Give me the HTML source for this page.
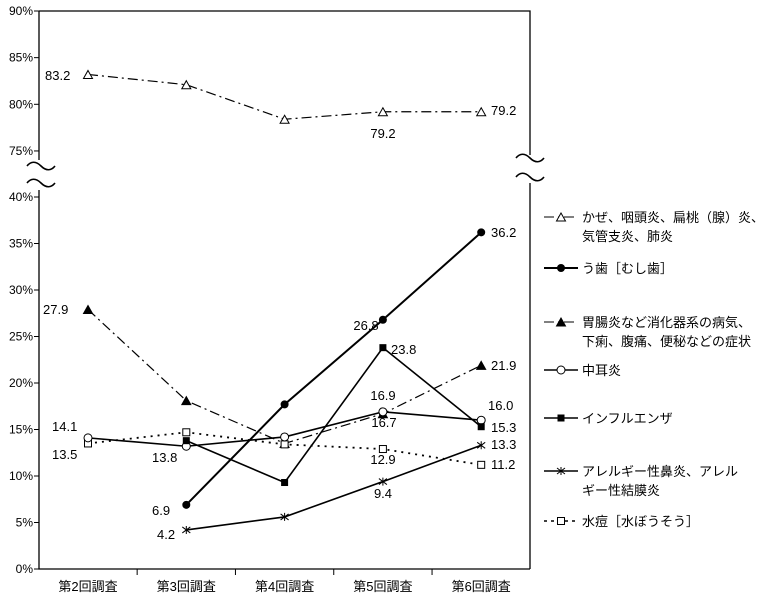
<!DOCTYPE html>
<html><head><meta charset="utf-8"><style>
body{margin:0;background:#fff;}
svg{display:block;font-family:"Liberation Sans","Noto Sans CJK JP",sans-serif;}
</style></head><body>
<svg id="chart" width="760" height="603"></svg>
<script>
const categories=["第2回調査","第3回調査","第4回調査","第5回調査","第6回調査"];
const coldVals=[83.2,82.1,78.4,79.2,79.2];
const cariesVals=[null,6.9,17.7,26.8,36.2];
const gastroVals=[27.9,18.1,13.5,16.7,21.9];
const otitisVals=[14.1,13.2,14.2,16.9,16.0];
const fluVals=[null,13.8,9.3,23.8,15.3];
const allergyVals=[null,4.2,5.6,9.4,13.3];
const varicellaVals=[13.5,14.7,13.4,12.9,11.2];
const upperTicks=[90,85,80,75];
const lowerTicks=[40,35,30,25,20,15,10,5,0];

const NS="http://www.w3.org/2000/svg";
const svg=document.getElementById('chart');
function el(t,a,p){const e=document.createElementNS(NS,t);for(const k in a)e.setAttribute(k,a[k]);(p||svg).appendChild(e);return e;}
const L=39,R=530;
const xs=i=>88+i*98.3;
const yLow=v=>569-v*9.3;
const yUp=v=>11+(90-v)*9.33;

let a=el('path',{d:`M${L},11H${R}V155M${R},183V569M${L},11V160M${L},190V569H${R}`,stroke:'#000','stroke-width':1.3,fill:'none'});

upperTicks.forEach(t=>{const y=yUp(t);el('line',{x1:L-5,x2:L,y1:y,y2:y,stroke:'#000'});
 const tx=el('text',{x:L-6,y:y+4,'text-anchor':'end','font-size':12});tx.textContent=t+'%';
 });
lowerTicks.forEach(t=>{const y=yLow(t);el('line',{x1:L-5,x2:L,y1:y,y2:y,stroke:'#000'});
 const tx=el('text',{x:L-6,y:y+4,'text-anchor':'end','font-size':12});tx.textContent=t+'%';
 });
for(let i=1;i<categories.length;i++){const x=(xs(i-1)+xs(i))/2;el('line',{x1:x,x2:x,y1:569,y2:575,stroke:'#000'});}
categories.forEach((c,i)=>{const t=el('text',{x:xs(i),y:591,'text-anchor':'middle','font-size':13});t.textContent=c;
 });
function squig(x,y){el('path',{d:`M${x},${y}c4,-5 9,-5 14,0s10,5 14,0`,stroke:'#000','stroke-width':1.6,fill:'none'});}
squig(27,166);squig(27,183);squig(516,158);squig(516,177);

function marker(g,type,x,y){
 if(type==='tri')el('path',{d:`M${x},${y-4}L${x+4.5},${y+4}L${x-4.5},${y+4}Z`,fill:'#fff',stroke:'#000'},g);
 if(type==='ftri')el('path',{d:`M${x},${y-4}L${x+4.5},${y+4}L${x-4.5},${y+4}Z`,fill:'#000',stroke:'#000'},g);
 if(type==='dot')el('circle',{cx:x,cy:y,r:4,fill:'#000'},g);
 if(type==='circ')el('circle',{cx:x,cy:y,r:4,fill:'#fff',stroke:'#000'},g);
 if(type==='fsq')el('rect',{x:x-3.5,y:y-3.5,width:7,height:7,fill:'#000'},g);
 if(type==='sq')el('rect',{x:x-3.5,y:y-3.5,width:7,height:7,fill:'#fff',stroke:'#000'},g);
 if(type==='star')el('path',{d:`M${x-4},${y-3}L${x+4},${y+3}M${x-4},${y+3}L${x+4},${y-3}M${x},${y-4}V${y+4}`,stroke:'#000'},g);
}
function series(name,vals,yf,type,dash,w){
 const g=el('g',{});
 const pts=[];vals.forEach((v,i)=>{if(v!==null)pts.push([xs(i),yf(v)]);});
 el('polyline',{points:pts.map(p=>p.join(',')).join(' '),fill:'none',stroke:'#000','stroke-width':w,'stroke-dasharray':dash},g);
 pts.forEach(p=>marker(g,type,p[0],p[1]));
 return g;
}
series('series-cold',coldVals,yUp,'tri','10,4,2,4',1.2);
series('series-gastro',gastroVals,yLow,'ftri','10,4,2,4',1.2);
series('series-varicella',varicellaVals,yLow,'sq','2,5',1.8);
series('series-otitis',otitisVals,yLow,'circ','none',1.6);
series('series-caries',cariesVals,yLow,'dot','none',2);
series('series-influenza',fluVals,yLow,'fsq','none',1.6);
series('series-allergy',allergyVals,yLow,'star','none',1.6);

function lab(s,x,y,anchor){const t=el('text',{x:x,y:y,'font-size':13,'text-anchor':anchor||'middle'});t.textContent=s;
 }
lab(coldVals[0].toFixed(1),45,80,'start');lab(coldVals[4].toFixed(1),491,115,'start');lab(coldVals[3].toFixed(1),383,138);
lab(gastroVals[0].toFixed(1),43,314,'start');lab(gastroVals[4].toFixed(1),491,370,'start');
lab(otitisVals[0].toFixed(1),52,431,'start');lab(otitisVals[4].toFixed(1),488,410,'start');lab(otitisVals[3].toFixed(1),383,400);
lab(varicellaVals[0].toFixed(1),52,459,'start');lab(fluVals[1].toFixed(1),152,462,'start');lab(varicellaVals[3].toFixed(1),383,464);lab(varicellaVals[4].toFixed(1),491,469,'start');
lab(gastroVals[3].toFixed(1),384,427);
lab(fluVals[3].toFixed(1),391,354,'start');lab(fluVals[4].toFixed(1),491,432,'start');
lab(cariesVals[3].toFixed(1),366,330);lab(cariesVals[4].toFixed(1),491,237,'start');lab(cariesVals[1].toFixed(1),152,515,'start');
lab(allergyVals[1].toFixed(1),157,539,'start');lab(allergyVals[3].toFixed(1),383,498);lab(allergyVals[4].toFixed(1),491,449,'start');

const legend=[
 ['legend-cold','tri','10,4,2,4',1,['かぜ、咽頭炎、扁桃（腺）炎、','気管支炎、肺炎'],217],
 ['legend-caries','dot','none',2,['う歯［むし歯］'],268],
 ['legend-gastro','ftri','10,4,2,4',1,['胃腸炎など消化器系の病気、','下痢、腹痛、便秘などの症状'],322],
 ['legend-otitis','circ','none',1.6,['中耳炎'],370],
 ['legend-influenza','fsq','none',1.6,['インフルエンザ'],418],
 ['legend-allergy','star','none',1.6,['アレルギー性鼻炎、アレル','ギー性結膜炎'],471],
 ['legend-varicella','sq','3,4',1.5,['水痘［水ぼうそう］'],521]];
legend.forEach(([n,t,d,w,lines,y])=>{const g=el('g',{});
 el('line',{x1:544,x2:578,y1:y,y2:y,stroke:'#000','stroke-width':w,'stroke-dasharray':d},g);
 marker(g,t,561,y);
 lines.forEach((s,i)=>{const tx=el('text',{x:582,y:y+5+i*19,'font-size':13},g);tx.textContent=s;});
});
</script>
</body></html>
